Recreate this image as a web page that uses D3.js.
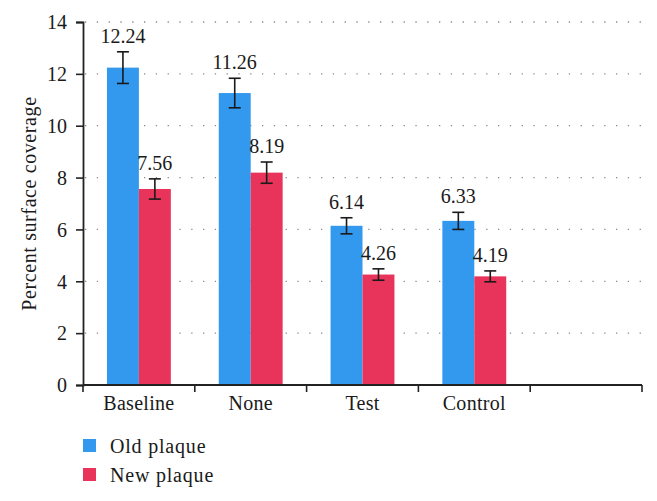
<!DOCTYPE html>
<html lang="en">
<head>
  <meta charset="UTF-8">
  <title>Plaque coverage</title>
  <style>
  body { margin: 0; background: #fff; }
  </style>
</head>
<body>
  <svg id="chart" width="657" height="501"></svg>
  <script src="https://cdn.jsdelivr.net/npm/d3@7"></script>
  <script>

// data
const categories = ['Baseline', 'None', 'Test', 'Control', '']
const series = ['Old plaque', 'New plaque']
const oldPlaque = [12.24, 11.26, 6.14, 6.33]
const newPlaque = [7.56, 8.19, 4.26, 4.19]
const oldErr = [0.61, 0.57, 0.31, 0.33]
const newErr = [0.39, 0.41, 0.22, 0.21]
const yTicks = [0, 2, 4, 6, 8, 10, 12, 14]
const colors = ['#3399ee', '#e8345a']

const FONT = "'Liberation Serif', 'DejaVu Serif', serif"

const svg = d3.select('#chart')
  .attr('font-family', FONT)
const plotL = 83, plotR = 642, plotT = 22, plotB = 385

const x = d3.scaleBand().domain(categories).range([plotL, plotR]).padding(0)
const xs = d3.scaleBand().domain(series).range([0, x.bandwidth()]).paddingOuter(0.75).paddingInner(0)
const y = d3.scaleLinear().domain([0, 14]).range([plotB, plotT])

// dotted grid
svg.append('g')
  .selectAll('line')
  .data(yTicks.filter(d => d > 0))
  .join('line')
    .attr('x1', plotL + 2).attr('x2', plotR)
    .attr('y1', d => y(d)).attr('y2', d => y(d))
    .attr('stroke', '#8a8a8a')
    .attr('stroke-width', 1.3)
    .attr('stroke-dasharray', '1.3,10.5')

const rows = categories.slice(0, 4).map((c, i) => ({
  cat: c,
  vals: [
    { s: series[0], v: oldPlaque[i], e: oldErr[i] },
    { s: series[1], v: newPlaque[i], e: newErr[i] }
  ]
}))

const groups = svg.append('g')
  .selectAll('g')
  .data(rows)
  .join('g')
    .attr('transform', d => `translate(${x(d.cat)},0)`)

groups.selectAll('rect')
  .data(d => d.vals)
  .join('rect')
    .attr('x', d => xs(d.s))
    .attr('width', xs.bandwidth())
    .attr('y', d => y(d.v))
    .attr('height', d => y(0) - y(d.v))
    .attr('fill', (d, i) => colors[i])

// error bars
const eb = groups.selectAll('g.err')
  .data(d => d.vals)
  .join('g')
    .attr('class', 'err')
    .attr('stroke', '#1a1a1a')
    .attr('stroke-width', 1.6)
eb.append('line')
  .attr('x1', d => xs(d.s) + xs.bandwidth() / 2).attr('x2', d => xs(d.s) + xs.bandwidth() / 2)
  .attr('y1', d => y(d.v + d.e)).attr('y2', d => y(d.v - d.e))
eb.selectAll('line.cap')
  .data(d => [d.v + d.e, d.v - d.e].map(v => ({ s: d.s, v })))
  .join('line')
    .attr('class', 'cap')
    .attr('x1', d => xs(d.s) + xs.bandwidth() / 2 - 6).attr('x2', d => xs(d.s) + xs.bandwidth() / 2 + 6)
    .attr('y1', d => y(d.v)).attr('y2', d => y(d.v))

// value labels
groups.selectAll('text.val')
  .data(d => d.vals)
  .join('text')
    .attr('class', 'val')
    .attr('x', d => xs(d.s) + xs.bandwidth() / 2)
    .attr('y', d => y(d.v + d.e) - 9)
    .attr('text-anchor', 'middle')
    .attr('font-size', 20)
    .attr('fill', '#1a1a1a')
    .text(d => d.v.toFixed(2))

// y axis
const yAxis = svg.append('g')
  .attr('transform', `translate(${plotL},0)`)
  .call(d3.axisLeft(y).tickValues(yTicks).tickSize(7).tickPadding(9))
  .attr('font-family', FONT)
  .attr('font-size', 20)
yAxis.select('.domain').attr('stroke', '#222').attr('stroke-width', 1.8)
yAxis.selectAll('.tick line').attr('stroke', '#222').attr('stroke-width', 1.6)
yAxis.selectAll('.tick text').attr('fill', '#1a1a1a').attr('dy', '0.34em')

// x axis: labels centred in bands, ticks on band edges
const xAxis = svg.append('g')
  .attr('transform', `translate(0,${plotB})`)
  .call(d3.axisBottom(x).tickSize(0).tickPadding(11))
  .attr('font-family', FONT)
  .attr('font-size', 20)
xAxis.select('.domain').remove()
xAxis.selectAll('.tick text').attr('fill', '#1a1a1a').attr('letter-spacing', 0.3)
xAxis.append('line')
  .attr('x1', plotL).attr('x2', plotR)
  .attr('stroke', '#222').attr('stroke-width', 1.8)
xAxis.selectAll('line.edge')
  .data([plotL].concat(categories.map(c => x(c) + x.bandwidth())))
  .join('line')
    .attr('class', 'edge')
    .attr('x1', d => d).attr('x2', d => d)
    .attr('y1', 0).attr('y2', 7)
    .attr('stroke', '#222').attr('stroke-width', 1.6)

// y title
svg.append('text')
  .attr('transform', `translate(29,${(plotT + plotB) / 2}) rotate(-90)`)
  .attr('text-anchor', 'middle')
  .attr('dy', '0.35em')
  .attr('font-size', 20)
  .attr('letter-spacing', 0.6)
  .attr('fill', '#1a1a1a')
  .text('Percent surface coverage')

// legend
const legend = svg.append('g')
  .selectAll('g')
  .data(series)
  .join('g')
    .attr('transform', (d, i) => `translate(${plotL},${439 + i * 29})`)
legend.append('rect')
  .attr('width', 13).attr('height', 13)
  .attr('fill', (d, i) => colors[i])
legend.append('text')
  .attr('x', 27).attr('y', 14)
  .attr('font-size', 20)
  .attr('letter-spacing', 0.8)
  .attr('fill', '#1a1a1a')
  .text(d => d)

  </script>
</body>
</html>
